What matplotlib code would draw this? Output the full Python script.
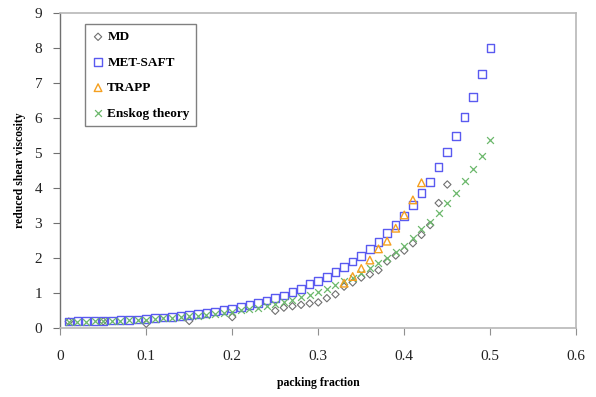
import matplotlib
matplotlib.use("Agg")
import matplotlib.pyplot as plt
import numpy as np

# packing fraction grid for the model curves
phi_model = np.round(np.arange(1, 51) * 0.01, 2)

met_saft = [0.18, 0.19, 0.19, 0.20, 0.20, 0.21, 0.22, 0.23, 0.24, 0.26,
            0.28, 0.30, 0.32, 0.34, 0.37, 0.40, 0.43, 0.47, 0.51, 0.55,
            0.60, 0.66, 0.72, 0.78, 0.85, 0.93, 1.02, 1.12, 1.25, 1.35,
            1.45, 1.60, 1.75, 1.90, 2.05, 2.25, 2.45, 2.71, 2.95, 3.20,
            3.51, 3.86, 4.17, 4.60, 5.03, 5.49, 6.03, 6.60, 7.26, 8.00]

enskog = [0.17, 0.18, 0.18, 0.19, 0.19, 0.20, 0.21, 0.22, 0.23, 0.24,
          0.26, 0.27, 0.29, 0.31, 0.33, 0.35, 0.37, 0.40, 0.43, 0.46,
          0.50, 0.54, 0.58, 0.63, 0.68, 0.74, 0.80, 0.87, 0.95, 1.03,
          1.12, 1.22, 1.33, 1.44, 1.56, 1.70, 1.85, 2.00, 2.17, 2.35,
          2.58, 2.83, 3.03, 3.29, 3.57, 3.86, 4.20, 4.54, 4.91, 5.37]

phi_md = [0.01, 0.05, 0.10, 0.15, 0.20, 0.25, 0.26, 0.27, 0.28, 0.29,
          0.30, 0.31, 0.32, 0.33, 0.34, 0.35, 0.36, 0.37, 0.38, 0.39,
          0.40, 0.41, 0.42, 0.43, 0.44, 0.45]
md = [0.18, 0.19, 0.12, 0.20, 0.31, 0.49, 0.58, 0.62, 0.66, 0.70,
      0.73, 0.85, 0.96, 1.18, 1.30, 1.44, 1.53, 1.65, 1.90, 2.07,
      2.21, 2.42, 2.66, 2.94, 3.57, 4.10]

phi_trapp = [0.33, 0.34, 0.35, 0.36, 0.37, 0.38, 0.39, 0.40, 0.41, 0.42]
trapp = [1.28, 1.47, 1.70, 1.94, 2.26, 2.48, 2.85, 3.23, 3.66, 4.15]

plt.rcParams["font.family"] = ["Liberation Serif", "DejaVu Serif"]

fig = plt.figure(figsize=(5.96, 3.97), dpi=100)
ax = fig.add_axes([0.101, 0.174, 0.866, 0.793])

ax.scatter(phi_md, md, marker="D", s=14, facecolors="none",
           edgecolors="#707070", linewidths=0.8, label="MD", zorder=3)
ax.scatter(phi_model, met_saft, marker="s", s=30, facecolors="none",
           edgecolors="#5a5af0", linewidths=1.0, label="MET-SAFT", zorder=3)
ax.scatter(phi_trapp, trapp, marker="^", s=30, facecolors="none",
           edgecolors="#f5a020", linewidths=1.0, label="TRAPP", zorder=4)
ax.scatter(phi_model, enskog, marker="x", s=24, color="#6cb86c",
           linewidths=0.9, label="Enskog theory", zorder=3)

ax.set_xlim(0, 0.6)
ax.set_ylim(0, 9)
ax.set_xticks(np.arange(0, 0.61, 0.1))
ax.set_xticklabels(["0", "0.1", "0.2", "0.3", "0.4", "0.5", "0.6"])
ax.set_yticks(range(10))

for side in ("top", "right", "bottom"):
    ax.spines[side].set_color("#b8b8b8")
    ax.spines[side].set_linewidth(1.2)
ax.spines["left"].set_color("#707070")
ax.spines["left"].set_linewidth(1.0)
ax.tick_params(axis="x", direction="out", length=5, color="#909090",
               labelsize=11, pad=11, labelcolor="#222222")
ax.tick_params(axis="y", direction="out", length=5, color="#707070",
               labelsize=11, pad=8, labelcolor="#222222")

ax.set_xlabel("packing fraction", fontsize=8.5, fontweight="bold", labelpad=10)
ax.set_ylabel("reduced shear viscosity", fontsize=8.5, fontweight="bold",
              labelpad=6)

leg = ax.legend(loc="upper left", bbox_to_anchor=(0.035, 0.985),
                prop={"weight": "bold", "size": 9.5}, frameon=True,
                fancybox=False, edgecolor="#606060", handletextpad=0.2,
                handlelength=1.0, borderpad=0.5, labelspacing=1.0)
leg.get_frame().set_linewidth(1.0)

fig.savefig("out.png", dpi=100)
